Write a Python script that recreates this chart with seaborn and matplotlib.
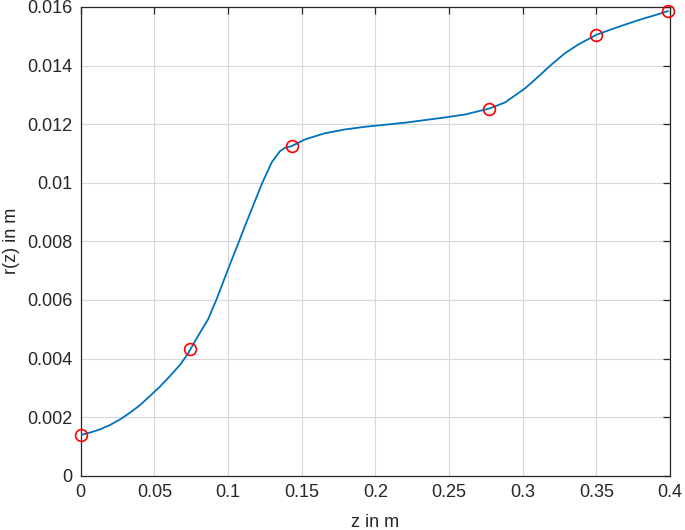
import matplotlib
matplotlib.use('Agg')
import matplotlib.pyplot as plt
import pandas as pd
import seaborn as sns

# Data
# knot points (red circles)
z_pts = [0.0, 0.0744, 0.1432, 0.2772, 0.3500, 0.3987]
r_pts = [0.00139, 0.00431, 0.01125, 0.01253, 0.01505, 0.01586]

# sampled curve (blue line)
z_curve = [0.0, 0.0063, 0.0131, 0.0199, 0.0267, 0.0335, 0.0403, 0.0470, 0.0538,
           0.0606, 0.0674, 0.0730, 0.0744, 0.0798, 0.0866, 0.0923, 0.1002, 0.1075,
           0.1115, 0.1161, 0.1233, 0.1297, 0.1353, 0.1390, 0.1432, 0.1523, 0.1658,
           0.1794, 0.1930, 0.2066, 0.2201, 0.2337, 0.2473, 0.2609, 0.2772, 0.2880,
           0.3016, 0.3106, 0.3197, 0.3287, 0.3378, 0.3500, 0.3649, 0.3785, 0.3898,
           0.3987]
r_curve = [0.00139, 0.00147, 0.00158, 0.00173, 0.00192, 0.00215, 0.00241, 0.00272, 0.00304,
           0.00340, 0.00378, 0.00418, 0.00431, 0.00478, 0.00535, 0.00603, 0.00707, 0.00800,
           0.00852, 0.00910, 0.01000, 0.01070, 0.01108, 0.01120, 0.01125, 0.01148, 0.01169,
           0.01182, 0.01191, 0.01198, 0.01205, 0.01214, 0.01223, 0.01233, 0.01253, 0.01274,
           0.01322, 0.01362, 0.01404, 0.01442, 0.01472, 0.01505, 0.01532, 0.01555, 0.01572,
           0.01586]

x_ticks = [0, 0.05, 0.1, 0.15, 0.2, 0.25, 0.3, 0.35, 0.4]
x_ticklabels = ['0', '0.05', '0.1', '0.15', '0.2', '0.25', '0.3', '0.35', '0.4']
y_ticks = [0, 0.002, 0.004, 0.006, 0.008, 0.01, 0.012, 0.014, 0.016]
y_ticklabels = ['0', '0.002', '0.004', '0.006', '0.008', '0.01', '0.012', '0.014', '0.016']

sns.set_style("white")
plt.rcParams['font.family'] = ['Liberation Sans', 'DejaVu Sans']

curve_df = pd.DataFrame({'z': z_curve, 'r': r_curve})
pts_df = pd.DataFrame({'z': z_pts, 'r': r_pts})

fig = plt.figure(figsize=(6.85, 5.30), dpi=100)
ax = fig.add_axes([0.1178, 0.1025, 0.8602, 0.8843])

sns.lineplot(data=curve_df, x='z', y='r', sort=False, color='#0072BD',
             linewidth=1.3, ax=ax, zorder=3)
ax.plot(pts_df['z'], pts_df['r'], linestyle='none', marker='o', markersize=8.5,
        markerfacecolor='none', markeredgecolor='#FF0000', markeredgewidth=1.2,
        zorder=4, clip_on=False)

ax.set_xlim(0, 0.4)
ax.set_ylim(0, 0.016)
ax.set_xticks(x_ticks)
ax.set_xticklabels(x_ticklabels)
ax.set_yticks(y_ticks)
ax.set_yticklabels(y_ticklabels)
ax.grid(True, color='#d9d9d9', linewidth=0.8)
ax.set_axisbelow(True)
for s in ax.spines.values():
    s.set_color('#262626')
    s.set_linewidth(0.9)
    s.set_visible(True)
ax.tick_params(direction='in', length=5, width=0.9, colors='#262626',
               top=True, right=True, labelsize=13, pad=6)
for lab in ax.get_xticklabels() + ax.get_yticklabels():
    lab.set_color('#262626')

ax.set_xlabel('z in m', fontsize=13, color='#262626', labelpad=9)
ax.set_ylabel('r(z) in m', fontsize=13, color='#262626', labelpad=5)

plt.savefig('out.png', dpi=100)
plt.close()
